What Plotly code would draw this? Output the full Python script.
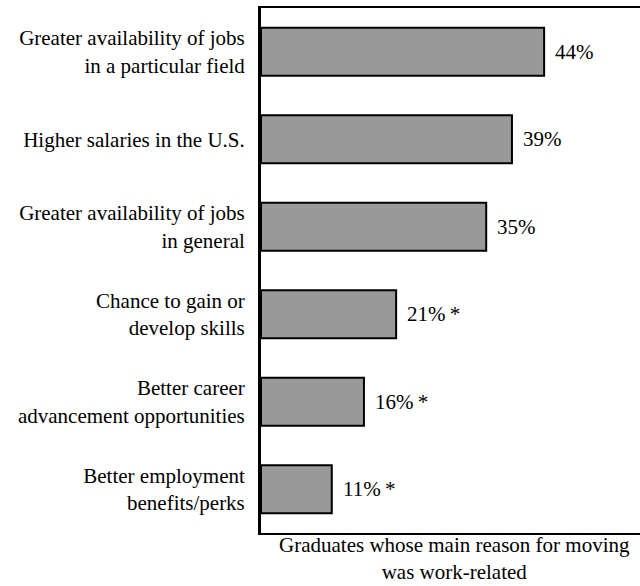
import plotly.graph_objects as go

reasons = [
    "Greater availability of jobs<br>in a particular field",
    "Higher salaries in the U.S.",
    "Greater availability of jobs<br>in general",
    "Chance to gain or<br>develop skills",
    "Better career<br>advancement opportunities",
    "Better employment<br>benefits/perks",
]
percent = [44, 39, 35, 21, 16, 11]
labels = ["44%", "39%", "35%", "21%\u2009*", "16%\u2009*", "11%\u2009*"]
caption = "Graduates whose main reason for moving<br>was work-related"

serif = "Liberation Serif, Times New Roman, serif"

fig = go.Figure(go.Bar(
    x=percent, y=reasons, orientation="h",
    marker=dict(color="#999999", line=dict(color="black", width=2)),
    width=0.55,
    cliponaxis=False,
))

# value labels just right of each bar
for r, p, t in zip(reasons, percent, labels):
    fig.add_annotation(x=p, y=r, text=t, showarrow=False,
                       xanchor="left", xshift=9,
                       font=dict(family=serif, size=21, color="black"))

# caption under the plot, sitting on the bottom edge of the page
fig.add_annotation(xref="paper", yref="paper", x=0.51, y=0,
                   text=caption, showarrow=False,
                   xanchor="center", yanchor="bottom", yshift=-53,
                   font=dict(family=serif, size=21, color="black"))

fig.update_layout(
    width=640, height=586,
    margin=dict(l=261, r=0, t=8, b=53),
    plot_bgcolor="white", paper_bgcolor="white",
    font=dict(family=serif, size=21, color="black"),
    showlegend=False,
    xaxis=dict(range=[0, 58.9], showgrid=False, zeroline=False,
               showticklabels=False, ticks="",
               showline=True, linecolor="black", linewidth=2, mirror=True),
    yaxis=dict(autorange="reversed", showgrid=False, ticks="",
               showline=True, linecolor="black", linewidth=3,
               tickfont=dict(family=serif, size=21, color="black"),
               ticklabelstandoff=9),
)

# drop the page's default body margin so the 640x586 figure fills the window
fig.write_html("out.html", config={"displayModeBar": False},
               post_script="document.body.style.margin = '0';")
